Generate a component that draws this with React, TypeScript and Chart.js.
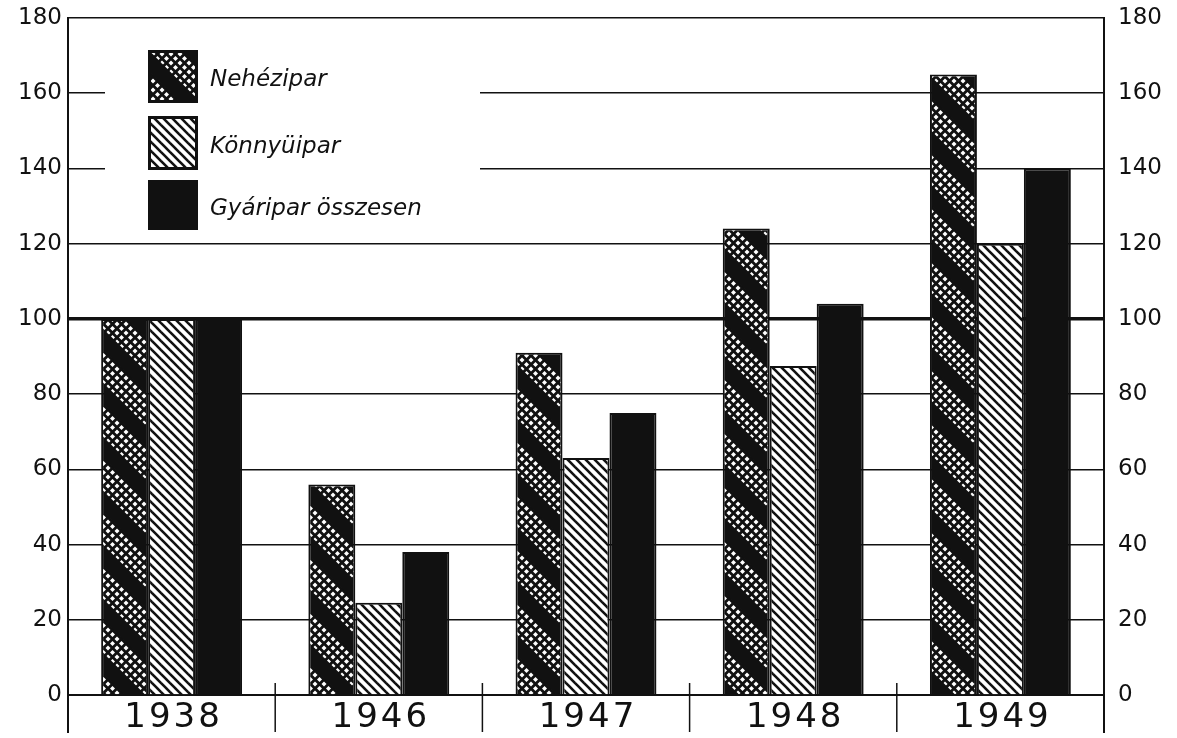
import React, { useEffect, useRef } from 'react';
import { Chart, registerables } from 'chart.js';

Chart.register(...registerables);

const categories = ['1938', '1946', '1947', '1948', '1949'];
const nehezipar = [100, 56, 91, 124, 165];
const konnyuipar = [100, 24.5, 63, 87.5, 120];
const gyaripar = [100, 38, 75, 104, 140];
const seriesLabels = ['Nehézipar', 'Könnyüipar', 'Gyáripar összesen'];
const yMin = 0;
const yMax = 180;
const yStep = 20;

function makeHeavyPattern(): CanvasPattern {
  const s = 54;
  const c = document.createElement('canvas');
  c.width = s;
  c.height = s;
  const g = c.getContext('2d')!;
  g.fillStyle = '#111';
  g.fillRect(0, 0, s, s);
  g.fillStyle = '#fff';
  const step = 4.5;
  const h = 2.5;
  for (let a = -2; a <= 14; a++) {
    for (let b = -2; b <= 14; b++) {
      if ((a + b) % 2 !== 0) continue;
      const cx = a * step;
      const cy = b * step;
      g.beginPath();
      g.moveTo(cx - h, cy);
      g.lineTo(cx, cy - h);
      g.lineTo(cx + h, cy);
      g.lineTo(cx, cy + h);
      g.closePath();
      g.fill();
    }
  }
  g.strokeStyle = '#111';
  g.lineWidth = 15;
  for (const off of [-s, 0, s]) {
    g.beginPath();
    g.moveTo(-s, -s + off + 20);
    g.lineTo(2 * s, 2 * s + off + 20);
    g.stroke();
  }
  return g.createPattern(c, 'repeat')!;
}

function makeLightPattern(): CanvasPattern {
  const s = 9;
  const c = document.createElement('canvas');
  c.width = s;
  c.height = s;
  const g = c.getContext('2d')!;
  g.fillStyle = '#fff';
  g.fillRect(0, 0, s, s);
  g.strokeStyle = '#111';
  g.lineWidth = 2.6;
  for (const off of [-s, 0, s]) {
    g.beginPath();
    g.moveTo(-s + off, -s);
    g.lineTo(2 * s + off, 2 * s);
    g.stroke();
  }
  return g.createPattern(c, 'repeat')!;
}

export default function App() {
  const ref = useRef<HTMLCanvasElement>(null);

  useEffect(() => {
    const canvas = ref.current!;
    const heavy = makeHeavyPattern();
    const light = makeLightPattern();
    const fills: (CanvasPattern | string)[] = [heavy, light, '#111'];

    const decor = {
      id: 'decor',
      afterDraw(chart: any) {
        const ctx = chart.ctx as CanvasRenderingContext2D;
        const area = chart.chartArea;
        const xs = chart.scales.x;
        ctx.save();
        // legend background (hides gridlines behind legend)
        ctx.fillStyle = '#fff';
        ctx.fillRect(105, area.top + 8, 375, 210);
        // legend boxes
        const boxes = [
          { y: 50, h: 53 },
          { y: 116, h: 54 },
          { y: 180, h: 50 },
        ];
        boxes.forEach((b, i) => {
          ctx.fillStyle = fills[i] as any;
          ctx.fillRect(148, b.y, 50, b.h);
          ctx.strokeStyle = '#111';
          ctx.lineWidth = 3;
          ctx.strokeRect(149.5, b.y + 1.5, 47, b.h - 3);
          ctx.fillStyle = '#111';
          ctx.font = 'italic 23px "DejaVu Sans"';
          ctx.textAlign = 'left';
          ctx.textBaseline = 'middle';
          ctx.fillText(seriesLabels[i], 210, b.y + b.h / 2 + 4);
        });
        // category separators
        ctx.strokeStyle = '#111';
        ctx.lineWidth = 1.5;
        for (let i = 0; i < categories.length - 1; i++) {
          const x = (xs.getPixelForValue(i) + xs.getPixelForValue(i + 1)) / 2;
          ctx.beginPath();
          ctx.moveTo(x, area.bottom - 12);
          ctx.lineTo(x, area.bottom + 37);
          ctx.stroke();
        }
        // axis extensions below
        ctx.lineWidth = 2;
        ctx.beginPath();
        ctx.moveTo(area.left, area.bottom);
        ctx.lineTo(area.left, area.bottom + 38);
        ctx.moveTo(area.right, area.bottom);
        ctx.lineTo(area.right, area.bottom + 38);
        ctx.stroke();
        // category labels
        ctx.fillStyle = '#111';
        ctx.font = '34px "DejaVu Sans"';
        (ctx as any).letterSpacing = '3px';
        ctx.textAlign = 'center';
        ctx.textBaseline = 'middle';
        categories.forEach((c, i) => {
          ctx.fillText(c, xs.getPixelForValue(i) + 2, area.bottom + 23);
        });
        ctx.restore();
      },
    };

    const tickFont = { family: '"DejaVu Sans"', size: 23 };

    const chart = new Chart(canvas, {
      type: 'bar',
      data: {
        labels: categories,
        datasets: [
          { label: seriesLabels[0], data: nehezipar, backgroundColor: heavy as any, borderColor: '#111', borderWidth: 2 },
          { label: seriesLabels[1], data: konnyuipar, backgroundColor: light as any, borderColor: '#111', borderWidth: 2 },
          { label: seriesLabels[2], data: gyaripar, backgroundColor: '#111', borderColor: '#111', borderWidth: 2 },
        ],
      },
      options: {
        animation: false,
        responsive: false,
        devicePixelRatio: 1,
        layout: { padding: { top: 18, left: 0, right: 0, bottom: 0 } },
        datasets: { bar: { categoryPercentage: 0.68, barPercentage: 1.0 } },
        plugins: { legend: { display: false }, tooltip: { enabled: false } },
        scales: {
          x: {
            grid: { display: false },
            border: { display: true, color: '#111', width: 2 },
            ticks: { display: false },
            afterFit: (s: any) => { s.height = 43; },
          },
          y: {
            position: 'left',
            min: yMin,
            max: yMax,
            ticks: { stepSize: yStep, color: '#111', font: tickFont, padding: 6 },
            grid: {
              color: '#111',
              lineWidth: (c: any) => (c.tick && c.tick.value === 100 ? 3.5 : 1.5),
              drawTicks: false,
            },
            border: { display: true, color: '#111', width: 2 },
            afterFit: (s: any) => { s.width = 68; s.paddingTop = 0; s.paddingBottom = 0; },
          },
          y2: {
            position: 'right',
            min: yMin,
            max: yMax,
            ticks: { stepSize: yStep, color: '#111', font: tickFont, padding: 14 },
            grid: { drawOnChartArea: false, drawTicks: false },
            border: { display: true, color: '#111', width: 2 },
            afterFit: (s: any) => { s.width = 73; s.paddingTop = 0; s.paddingBottom = 0; },
          },
        },
      },
      plugins: [decor],
    } as any);

    return () => chart.destroy();
  }, []);

  return (
    <div style={{ position: 'absolute', left: 0, top: 0, width: 1177, height: 738, background: '#fff' }}>
      <canvas ref={ref} width={1177} height={738} style={{ display: 'block' }} />
    </div>
  );
}
